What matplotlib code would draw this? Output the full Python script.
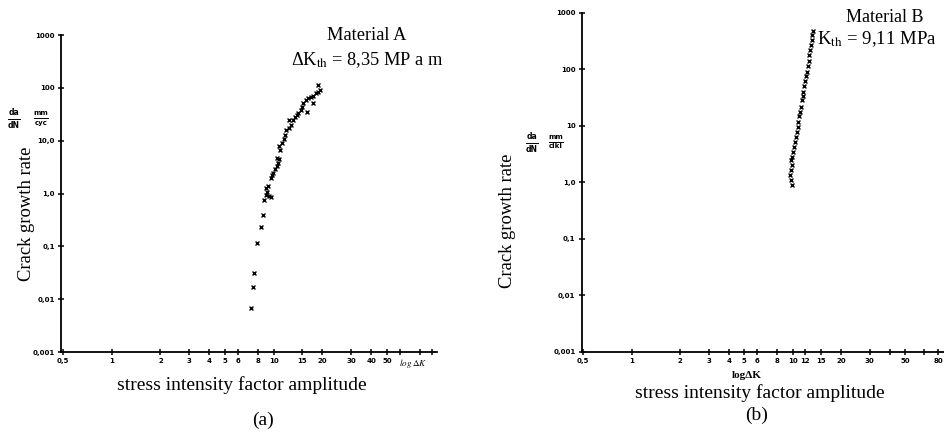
import matplotlib
matplotlib.use("Agg")
import matplotlib.pyplot as plt
from matplotlib.lines import Line2D
from matplotlib.ticker import FixedLocator, NullFormatter

plt.rcParams["mathtext.fontset"] = "stix"

# ---------------- data ----------------
# Material A: stress intensity factor amplitude (MPa m^0.5) and crack growth rate
dk_a = [7.20, 7.41, 7.55, 7.92, 8.34, 8.62, 8.74, 8.91, 9.13, 9.39, 9.57, 8.96, 9.26,
        9.57, 9.75, 9.94, 10.18, 10.42, 10.67, 10.82, 10.42, 10.93, 10.77, 11.19, 11.57,
        11.73, 11.90, 12.48, 12.72, 12.48, 13.08, 13.53, 13.85, 14.18, 14.66, 14.87,
        15.22, 15.81, 16.35, 16.90, 17.55, 18.23, 18.84, 19.29, 18.84, 17.55, 15.96]
rate_a = [0.00671, 0.0173, 0.0309, 0.118, 0.236, 0.393, 0.756, 0.941, 1.09, 0.90, 0.85,
          1.26, 1.39, 1.95, 2.25, 2.49, 2.88, 3.33, 3.85, 4.46, 4.66, 6.69, 7.96, 8.96,
          10.7, 12.9, 16.0, 17.2, 19.9, 24.1, 24.8, 27.8, 30.8, 34.1, 38.3, 44.3, 52.7,
          59.3, 63.7, 66.6, 70.5, 79.3, 85.2, 91.6, 114.0, 51.2, 35.6]

# Material B
dk_b = [9.84, 9.70, 9.61, 9.70, 9.84, 9.75, 9.94, 10.08, 10.18, 10.32, 10.47, 10.57,
        10.73, 10.83, 10.98, 11.09, 11.20, 11.36, 11.52, 11.63, 11.80, 11.97, 12.08,
        12.20, 12.38, 12.56, 12.67, 12.80, 12.92, 13.10, 13.23, 13.42]
rate_b = [0.892, 1.094, 1.34, 1.64, 2.02, 2.47, 2.83, 3.47, 4.26, 5.22, 6.40, 7.84,
          9.61, 11.8, 14.5, 17.7, 21.7, 28.5, 32.7, 40.0, 49.1, 60.2, 73.8, 90.4, 111,
          136, 178, 219, 268, 329, 403, 462]

y_ticks = [0.001, 0.01, 0.1, 1, 10, 100, 1000]
y_labels_a = ["0,001", "0,01", "0,1", "1,0", "10,0", "100", "1000"]
y_labels_b = ["0,001", "0,01", "0,1", "1,0", "10", "100", "1000"]

x_ticks_a = [0.5, 1, 2, 3, 4, 5, 6, 8, 10, 15, 20, 30, 40, 50]
x_labels_a = ["0,5", "1", "2", "3", "4", "5", "6", "8", "10", "15", "20", "30", "40", "50"]
x_minor_a = [60, 80, 95]

x_ticks_b = [0.5, 1, 2, 3, 4, 5, 6, 8, 10, 12, 15, 20, 30, 50, 80]
x_labels_b = ["0,5", "1", "2", "3", "4", "5", "6", "8", "10", "12", "15", "20", "30", "50", "80"]
x_minor_b = [40, 65]

# ---------------- figure ----------------
W, H = 945, 434
fig = plt.figure(figsize=(W / 100, H / 100), dpi=100)
serif = "Liberation Serif"


def fx(px):
    return px / W


def fy(py):
    return 1 - py / H


def style_axes(ax, xt, xl, xm, yl, xlim):
    ax.set_xscale("log")
    ax.set_yscale("log")
    ax.set_xlim(*xlim)
    ax.set_ylim(0.001, 1000)
    for s in ("top", "right"):
        ax.spines[s].set_visible(False)
    for s in ("left", "bottom"):
        ax.spines[s].set_linewidth(1.3)
    ax.xaxis.set_major_locator(FixedLocator(xt))
    ax.set_xticklabels(xl)
    ax.xaxis.set_minor_locator(FixedLocator(xm))
    ax.xaxis.set_minor_formatter(NullFormatter())
    ax.yaxis.set_major_locator(FixedLocator(y_ticks))
    ax.set_yticklabels(yl)
    ax.yaxis.set_minor_locator(FixedLocator([]))
    ax.tick_params(which="both", direction="inout", length=5, width=1.1, pad=2,
                   labelsize=5)
    for lab in ax.get_xticklabels() + ax.get_yticklabels():
        lab.set_fontweight("bold")
    ax.patch.set_alpha(0)


def hand_fraction(px, py, num, den, size=5.5, half=7):
    fig.text(fx(px), fy(py - 2), num, ha="center", va="bottom", fontsize=size,
             fontweight="bold")
    fig.text(fx(px), fy(py + 1.5), den, ha="center", va="top", fontsize=size,
             fontweight="bold")
    fig.add_artist(Line2D([fx(px - half), fx(px + half)], [fy(py), fy(py)],
                          color="black", linewidth=0.7))


# Left panel (a)
ax1 = fig.add_axes([fx(61), fy(352), fx(437 - 61), (352 - 35) / H])
ax1.scatter(dk_a, rate_a, marker="x", s=8, c="black", linewidths=1.0)
style_axes(ax1, x_ticks_a, x_labels_a, x_minor_a, y_labels_a, (0.486, 102))

# Right panel (b)
ax2 = fig.add_axes([fx(581.7), fy(351.7), fx(944 - 581.7), (351.7 - 12.5) / H])
ax2.scatter(dk_b, rate_b, marker="x", s=8, c="black", linewidths=1.0)
style_axes(ax2, x_ticks_b, x_labels_b, x_minor_b, y_labels_b, (0.489, 87))

# ---------------- texts ----------------
fig.text(fx(27), fy(214), "Crack growth rate", rotation=90, ha="center", va="center",
         family=serif, fontsize=13.4)
fig.text(fx(507), fy(221), "Crack growth rate", rotation=90, ha="center", va="center",
         family=serif, fontsize=13.4)

fig.text(fx(242), fy(385), "stress intensity factor amplitude", ha="center", va="center",
         family=serif, fontsize=14)
fig.text(fx(760), fy(393), "stress intensity factor amplitude", ha="center", va="center",
         family=serif, fontsize=14)

fig.text(fx(263), fy(420), "(a)", ha="center", va="center", family=serif, fontsize=14)
fig.text(fx(757), fy(415), "(b)", ha="center", va="center", family=serif, fontsize=14)

fig.text(fx(367), fy(36), "Material A", ha="center", va="center", family=serif,
         fontsize=13.2)
fig.text(fx(367), fy(60), "\u0394K$_{\\mathrm{th}}$ = 8,35 MP a m", ha="center",
         va="center", family=serif, fontsize=13.2)
fig.text(fx(885), fy(17), "Material B", ha="center", va="center", family=serif,
         fontsize=13)
fig.text(fx(877), fy(39), "K$_{\\mathrm{th}}$ = 9,11 MPa", ha="center",
         va="center", family=serif, fontsize=13.5)

# handwritten axis annotations
hand_fraction(14, 119, "da", "dN", size=5.5, half=6)
hand_fraction(41, 118, "mm", "cyc", size=5, half=7)
hand_fraction(532, 143, "da", "dN", size=5.5, half=6)
hand_fraction(556, 142, "mm", "cikl", size=5, half=7)

fig.text(fx(413), fy(364), r"$\mathit{log}\;\Delta \mathit{K}$", ha="center",
         va="center", fontsize=6.5)
fig.text(fx(747), fy(376), "log\u0394K", ha="center", va="center",
         family=serif, fontsize=8, fontweight="bold")

fig.savefig("out.png", dpi=100)
